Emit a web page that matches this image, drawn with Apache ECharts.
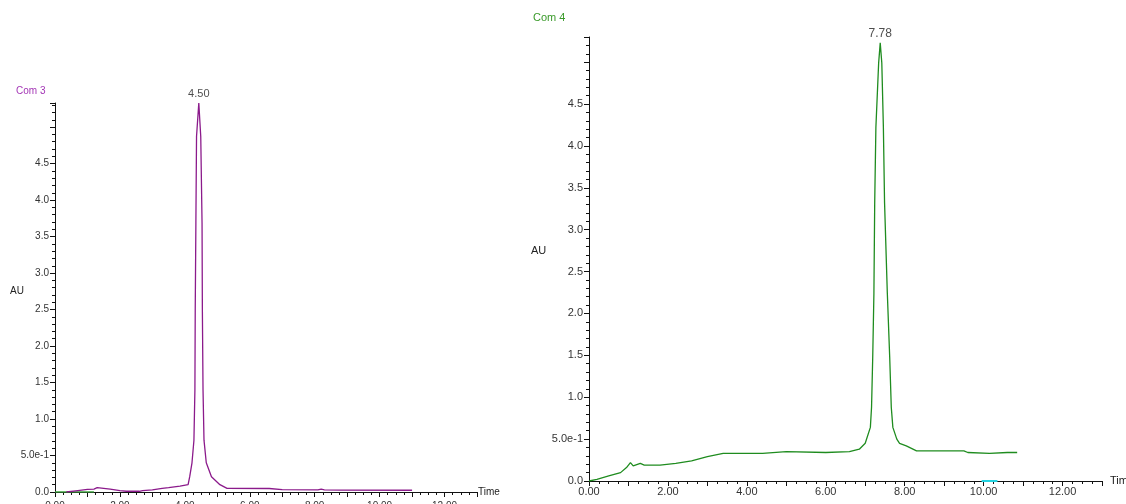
<!DOCTYPE html>
<html>
<head>
    <meta charset="utf-8">
    <script src="https://cdn.jsdelivr.net/npm/echarts@6/dist/echarts.min.js"></script>
    <style>
        html, body { margin: 0; padding: 0; background: #fff; }
        #main { width: 1126px; height: 504px; }
    </style>
</head>
<body>
    <div id="main"></div>
    <script type="text/javascript">
        // Com 3 trace (time, AU)
        var com3Data = [
            [0.35, 0], [0.4, 0.01], [0.7, 0.02], [1.0, 0.035], [1.2, 0.04], [1.3, 0.06], [1.35, 0.045],
            [1.5, 0.05], [1.7, 0.04], [2.0, 0.02], [2.2, 0.01], [2.6, 0.01], [2.7, 0.02], [3.0, 0.03],
            [3.3, 0.05], [3.5, 0.06], [3.85, 0.08], [4.1, 0.1], [4.15, 0.21], [4.22, 0.4], [4.28, 0.71],
            [4.31, 1.4], [4.32, 2.49], [4.34, 3.68], [4.36, 4.87], [4.43, 5.33], [4.49, 4.87],
            [4.53, 3.68], [4.54, 2.49], [4.56, 1.4], [4.59, 0.71], [4.66, 0.4], [4.82, 0.21],
            [5.08, 0.1], [5.3, 0.05], [6.6, 0.048], [7.0, 0.032], [8.1, 0.03], [8.2, 0.038],
            [8.3, 0.03], [8.8, 0.025], [11.0, 0.024]
        ];
        var com3Peak = [4.43, 5.33];
        var com3PeakLabel = '4.50';
        var com3Base = [[0, 0], [1.2, 0]];

        // Com 4 trace (time, AU)
        var com4Data = [
            [0, 0], [0.2, 0.02], [0.5, 0.06], [0.8, 0.1], [0.95, 0.16], [1.05, 0.22], [1.12, 0.18],
            [1.3, 0.21], [1.4, 0.19], [1.8, 0.19], [2.2, 0.21], [2.6, 0.24], [3.0, 0.29], [3.4, 0.33],
            [4.4, 0.33], [5.0, 0.35], [6.0, 0.34], [6.6, 0.35], [6.85, 0.38], [7.0, 0.45], [7.13, 0.64],
            [7.16, 0.88], [7.19, 1.48], [7.22, 2.24], [7.24, 3.32], [7.27, 4.22], [7.34, 4.99],
            [7.38, 5.23], [7.42, 4.99], [7.46, 4.22], [7.49, 3.32], [7.56, 2.24], [7.62, 1.48],
            [7.66, 0.88], [7.7, 0.64], [7.8, 0.5], [7.87, 0.45], [8.04, 0.42], [8.3, 0.36],
            [9.5, 0.36], [9.6, 0.34], [10.15, 0.33], [10.6, 0.34], [10.85, 0.34]
        ];
        var com4Peak = [7.38, 5.23];
        var com4PeakLabel = '7.78';
        var com4Base = [[9.95, 0], [10.35, 0]];

        var yLabels = { '0': '0.0', '0.5': '5.0e-1', '1': '1.0', '1.5': '1.5', '2': '2.0', '2.5': '2.5',
                        '3': '3.0', '3.5': '3.5', '4': '4.0', '4.5': '4.5' };

        function peakSeries(axis, point, text, size) {
            return {
                type: 'scatter', xAxisIndex: axis, yAxisIndex: axis, data: [point],
                symbolSize: 1, itemStyle: { color: 'rgba(0,0,0,0)' }, silent: true, clip: false,
                label: { show: true, position: 'top', distance: 3, formatter: text,
                         color: '#222', fontSize: size, fontFamily: 'Liberation Sans' }
            };
        }

        function xAxisOpt(grid, size, margin, gap) {
            return {
                gridIndex: grid, type: 'value', min: 0, max: 13, interval: 1,
                name: 'Time', nameLocation: 'end', nameGap: gap,
                nameTextStyle: { color: '#222', fontSize: size, fontFamily: 'Liberation Sans',
                                 verticalAlign: 'middle', padding: [6, 0, 0, 0] },
                axisLine: { lineStyle: { color: '#111', width: 1 } },
                axisTick: { length: 5, lineStyle: { color: '#111' } },
                minorTick: { show: true, splitNumber: 4, length: 3, lineStyle: { color: '#111' } },
                axisLabel: {
                    color: '#333', fontSize: size, fontFamily: 'Liberation Sans', margin: margin,
                    formatter: function (v) { return v % 2 === 0 ? v.toFixed(2) : ''; }
                },
                splitLine: { show: false }
            };
        }

        function yAxisOpt(grid, size, top) {
            return {
                gridIndex: grid, type: 'value', min: 0, max: top, interval: 0.5,
                axisLine: { show: true, lineStyle: { color: '#111', width: 1 } },
                axisTick: { length: 5, lineStyle: { color: '#111' } },
                minorTick: { show: true, splitNumber: 5, length: 3, lineStyle: { color: '#111' } },
                axisLabel: {
                    color: '#333', fontSize: size, fontFamily: 'Liberation Sans', margin: 6,
                    formatter: function (v) { var k = String(Math.round(v * 10) / 10); return yLabels[k] || ''; }
                },
                splitLine: { show: false }
            };
        }

        var myChart = echarts.init(document.getElementById('main'), null, { renderer: 'canvas' });
        myChart.setOption({
            animation: false,
            title: [
                { text: 'Com 3', left: 16, top: 86, padding: 0, textStyle: { color: '#a335b5', fontSize: 10, fontWeight: 'normal', fontFamily: 'Liberation Sans' } },
                { text: 'Com 4', left: 533, top: 12, padding: 0, textStyle: { color: '#3a9a2a', fontSize: 11, fontWeight: 'normal', fontFamily: 'Liberation Sans' } }
            ],
            graphic: [
                { type: 'text', left: 10, top: 286, style: { text: 'AU', fill: '#222', fontSize: 10, fontFamily: 'Liberation Sans' } },
                { type: 'text', left: 531, top: 245, style: { text: 'AU', fill: '#222', fontSize: 11, fontFamily: 'Liberation Sans' } }
            ],
            grid: [
                { left: 55, top: 103, width: 422, height: 389, outerBoundsMode: 'none', containLabel: false },
                { left: 589, top: 37, width: 513, height: 444, outerBoundsMode: 'none', containLabel: false }
            ],
            xAxis: [xAxisOpt(0, 10, 9, 1), xAxisOpt(1, 11, 5, 8)],
            yAxis: [yAxisOpt(0, 10, 5.33), yAxisOpt(1, 11, 5.3)],
            series: [
                { type: 'line', xAxisIndex: 0, yAxisIndex: 0, data: com3Base, symbol: 'none',
                  lineStyle: { color: '#3aa33a', width: 1.5 }, silent: true },
                { type: 'line', xAxisIndex: 0, yAxisIndex: 0, data: com3Data,
                  symbol: 'none', lineStyle: { color: '#8b1a8b', width: 1.3 }, silent: true },
                peakSeries(0, com3Peak, com3PeakLabel, 11),
                { type: 'line', xAxisIndex: 1, yAxisIndex: 1, data: com4Base, symbol: 'none',
                  lineStyle: { color: '#22d3e0', width: 2 }, silent: true },
                { type: 'line', xAxisIndex: 1, yAxisIndex: 1, data: com4Data,
                  symbol: 'none', lineStyle: { color: '#1f8c1f', width: 1.3 }, silent: true },
                peakSeries(1, com4Peak, com4PeakLabel, 12)
            ]
        });
    </script>
</body>
</html>
